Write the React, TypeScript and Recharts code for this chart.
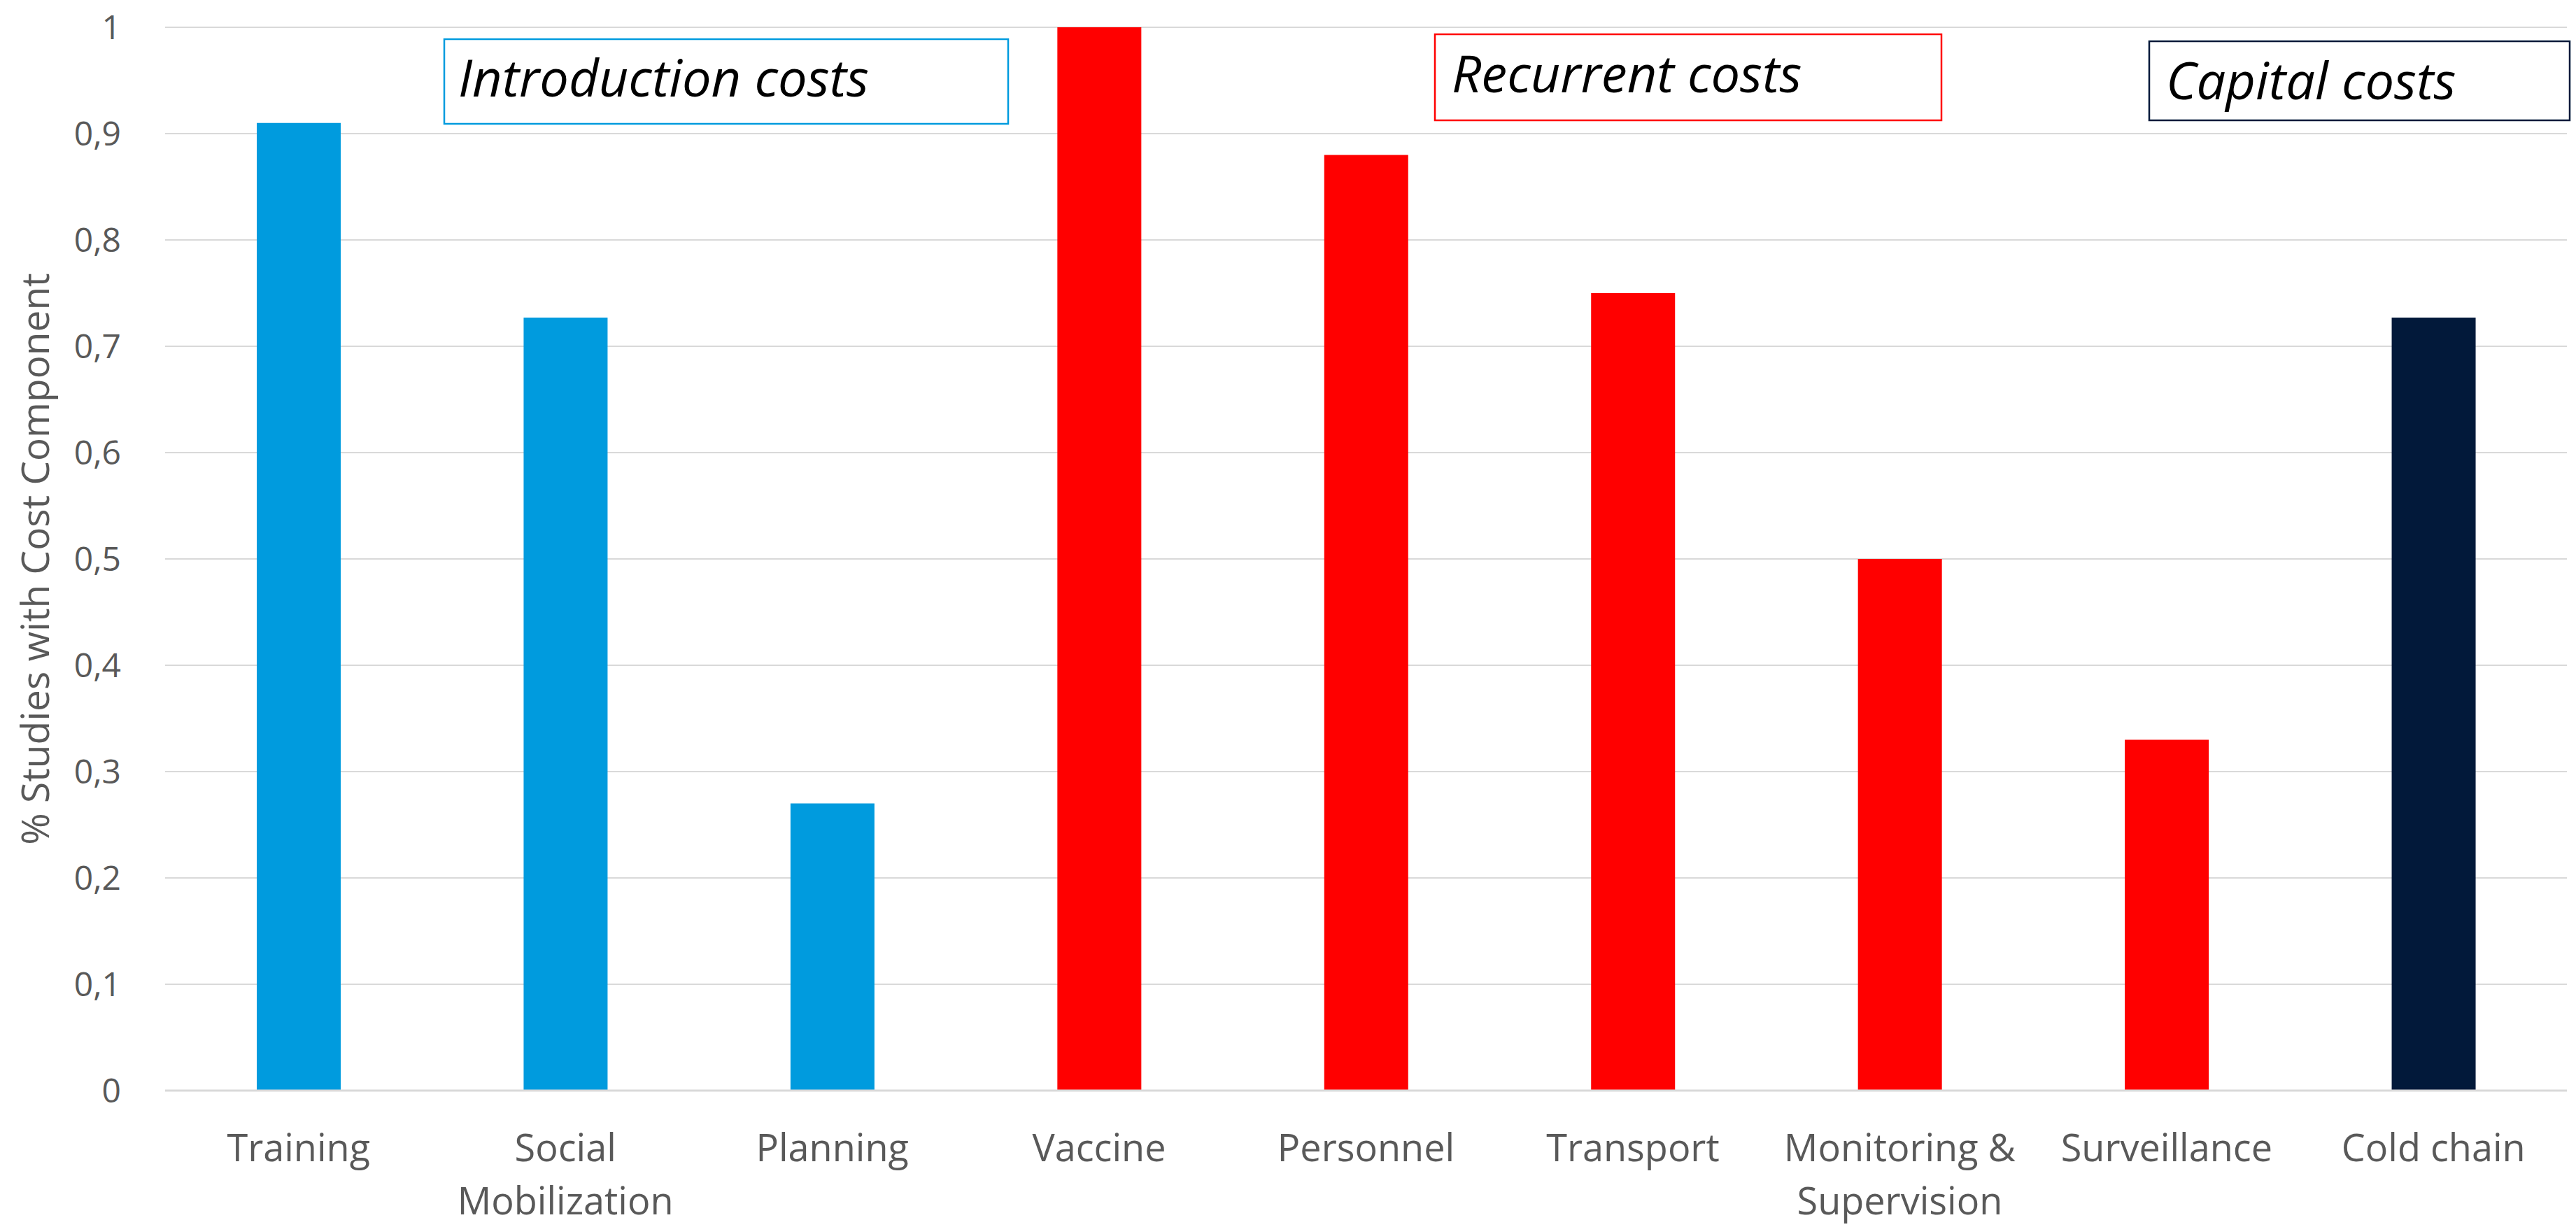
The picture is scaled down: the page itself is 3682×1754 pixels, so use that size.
import React from 'react';
import { BarChart, Bar, XAxis, YAxis, CartesianGrid, Cell } from 'recharts';

const categories = [
  'Training', 'Social Mobilization', 'Planning', 'Vaccine', 'Personnel',
  'Transport', 'Monitoring & Supervision', 'Surveillance', 'Cold chain',
];
const shares = [0.91, 0.727, 0.27, 1, 0.88, 0.75, 0.5, 0.33, 0.727];
const costGroups = [
  'Introduction costs', 'Introduction costs', 'Introduction costs',
  'Recurrent costs', 'Recurrent costs', 'Recurrent costs', 'Recurrent costs', 'Recurrent costs',
  'Capital costs',
];
const groupNames = ['Introduction costs', 'Recurrent costs', 'Capital costs'];
const yTicks = [0, 0.1, 0.2, 0.3, 0.4, 0.5, 0.6, 0.7, 0.8, 0.9, 1];
const yAxisTitle = '% Studies with Cost Component';

const W = 3682;
const H = 1754;
const FONT = '"Open Sans", sans-serif';
const GREY = '#595959';

const groupColor: Record<string, string> = {
  'Introduction costs': '#009BDE',
  'Recurrent costs': '#FF0000',
  'Capital costs': '#02193A',
};

// annotation boxes above the bars (x, y, w, h in page pixels)
const boxLayout = [
  { x: 635, y: 56, w: 806, h: 121, pad: 20, base: 82 },
  { x: 2051, y: 49, w: 724, h: 123, pad: 24, base: 83 },
  { x: 3072, y: 59, w: 601, h: 113, pad: 24, base: 83 },
];

const data = categories.map((name, i) => ({ name, value: shares[i], group: costGroups[i] }));

const wrapLabel = (text: string, maxChars: number) => {
  const words = text.split(' ');
  const lines: string[] = [];
  let cur = '';
  words.forEach((w) => {
    const next = cur ? `${cur} ${w}` : w;
    if (next.length > maxChars && cur) {
      lines.push(cur);
      cur = w;
    } else {
      cur = next;
    }
  });
  if (cur) lines.push(cur);
  return lines;
};

const CategoryTick = ({ x, y, payload }: any) => {
  const lines = wrapLabel(payload.value, 13);
  return (
    <text x={x} y={y + 101} textAnchor="middle" fill={GREY} fontSize={54} fontFamily={FONT}>
      {lines.map((line, i) => (
        <tspan key={line} x={x} dy={i === 0 ? 0 : 76}>{line}</tspan>
      ))}
    </text>
  );
};

export default function App() {
  return (
    <div style={{ position: 'absolute', left: 0, top: 0, width: W, height: H, background: '#fff', fontFamily: FONT }}>
      <BarChart width={W} height={H} data={data} margin={{ top: 39, right: 13, bottom: 0, left: 0 }}>
        <CartesianGrid vertical={false} stroke="#D9D9D9" strokeWidth={2} />
        <XAxis
          dataKey="name"
          height={195}
          interval={0}
          tickSize={0}
          tickMargin={0}
          tick={<CategoryTick />}
          axisLine={{ stroke: '#D9D9D9', strokeWidth: 3 }}
          tickLine={false}
        />
        <YAxis
          width={236}
          domain={[0, 1]}
          ticks={yTicks}
          tickSize={0}
          tickMargin={63}
          axisLine={false}
          tickLine={false}
          tick={{ fill: GREY, fontSize: 48, fontFamily: FONT }}
          tickFormatter={(v: number) => String(v).replace('.', ',')}
          label={{
            value: yAxisTitle,
            angle: -90,
            position: 'insideLeft',
            offset: 50,
            style: { textAnchor: 'middle', fill: GREY, fontSize: 55, fontFamily: FONT },
          }}
        />
        <Bar dataKey="value" barSize={120} isAnimationActive={false}>
          {data.map((d) => (
            <Cell key={d.name} fill={groupColor[d.group]} />
          ))}
        </Bar>
      </BarChart>

      <svg width={W} height={H} style={{ position: 'absolute', left: 0, top: 0, pointerEvents: 'none' }}>
        {groupNames.map((g, i) => {
          const b = boxLayout[i];
          return (
            <g key={g}>
              <rect x={b.x} y={b.y} width={b.w} height={b.h} fill="#fff" stroke={groupColor[g]} strokeWidth={2.5} />
              <text x={b.x + b.pad} y={b.y + b.base} fontSize={74} fontStyle="italic" fill="#000" fontFamily={FONT}>
                {g}
              </text>
            </g>
          );
        })}
      </svg>
    </div>
  );
}
